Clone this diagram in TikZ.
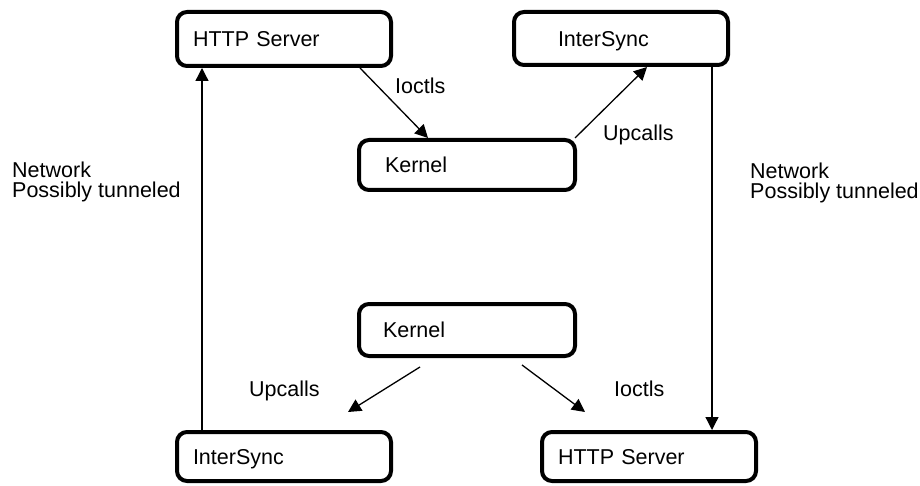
\documentclass[tikz,border=0pt]{standalone}
\usepackage{fontspec}
\setmainfont{Liberation Sans}
\usetikzlibrary{arrows.meta}
\begin{document}
\begin{tikzpicture}[x=1pt,y=-1pt,
  txt/.style={font=\fontsize{21.5}{20}\selectfont},
  box/.style={txt, draw, line width=4pt, rounded corners=10pt, anchor=north west,
    align=left, inner ysep=0pt, text height=15.4pt, text depth=0pt},
  lbl/.style={txt, anchor=north west, inner sep=0pt, align=left},
  conn/.style={line width=1.3pt, -{Triangle[length=13pt,width=13pt]}}]
  \useasboundingbox (0,0) rectangle (920,486);

  % upper half
  \node[box, minimum width=214pt, minimum height=54pt, text width=182pt, inner xsep=16pt]
    (hs1) at (175,10) {HTTP Server};
  \node[box, minimum width=214pt, minimum height=53pt, text width=126pt, inner xsep=44pt]
    (is1) at (512,10) {InterSync};
  \node[box, minimum width=216pt, minimum height=50pt, text width=164pt, inner xsep=26pt]
    (k1) at (357,138) {Kernel};

  % lower half
  \node[box, minimum width=216pt, minimum height=52pt, text width=168pt, inner xsep=24pt]
    (k2) at (357,302) {Kernel};
  \node[box, minimum width=214pt, minimum height=49pt, text width=182pt, inner xsep=16pt]
    (is2) at (175,430) {InterSync};
  \node[box, minimum width=214pt, minimum height=49pt, text width=182pt, inner xsep=16pt]
    (hs2) at (540,430) {HTTP Server};

  % connectors
  \draw[conn] ([shift={(185,0)}]hs1.south west) -- ([shift={(71,0)}]k1.north west);
  \draw[conn] ([shift={(-2,0)}]k1.north east) -- ([shift={(135,0)}]is1.south west);
  \draw[conn] ([shift={(200,0)}]is1.south west) -- ([shift={(172,0)}]hs2.north west);
  \draw[conn] ([shift={(27,0)}]is2.north west) -- ([shift={(27,0)}]hs1.south west);

  \coordinate (upA) at ([shift={(63,9)}]k2.south west);
  \coordinate (upB) at ([shift={(-9,54)}]k2.south west);
  \coordinate (ioA) at ([shift={(165,7)}]k2.south west);
  \coordinate (ioB) at ([shift={(228,54)}]k2.south west);
  \draw[conn] (upA) -- (upB);
  \draw[conn] (ioA) -- (ioB);

  % labels
  \node[lbl] (l1) at (395,78) {Ioctls};
  \node[lbl] (l2) at (603,125) {Upcalls};
  \node[lbl] (l3) at (12,162) {Network\\Possibly tunneled};
  \node[lbl] (l4) at (750,163) {Network\\Possibly tunneled};
  \node[lbl] (l5) at (249,381) {Upcalls};
  \node[lbl] (l6) at (614,381) {Ioctls};
\end{tikzpicture}
\end{document}
